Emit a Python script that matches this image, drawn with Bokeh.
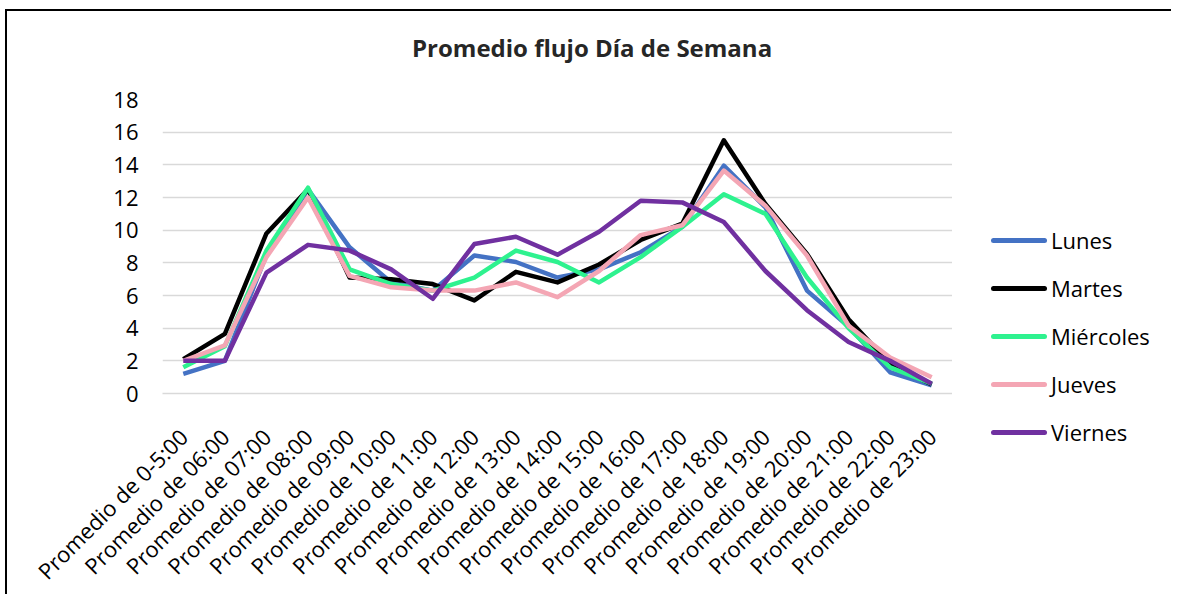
from bokeh.plotting import figure
from bokeh.models import FactorRange, Range1d, SingleIntervalTicker, Div
from bokeh.layouts import row, column
from bokeh.embed import file_html
from bokeh.resources import INLINE
from math import pi

categories = ["Promedio de 0-5:00"] + ["Promedio de %02d:00" % h for h in range(6, 24)]

lunes = [1.2, 2.0, 8.5, 12.5, 8.95, 6.8, 6.3, 8.45, 8.05, 7.1, 7.6, 8.65, 10.2, 13.95, 11.4, 6.3, 4.1, 1.3, 0.5]
martes = [2.1, 3.65, 9.8, 12.5, 7.1, 7.0, 6.7, 5.7, 7.45, 6.8, 7.9, 9.4, 10.4, 15.5, 11.6, 8.55, 4.55, 1.8, 0.55]
miercoles = [1.6, 2.9, 8.75, 12.6, 7.6, 6.7, 6.3, 7.1, 8.75, 8.05, 6.8, 8.35, 10.2, 12.2, 11.0, 7.1, 4.0, 1.6, 0.6]
jueves = [2.0, 2.95, 8.35, 12.0, 7.2, 6.5, 6.3, 6.3, 6.8, 5.9, 7.5, 9.7, 10.3, 13.65, 11.5, 8.45, 4.15, 2.2, 1.0]
viernes = [2.0, 2.0, 7.4, 9.1, 8.75, 7.6, 5.8, 9.15, 9.6, 8.5, 9.9, 11.8, 11.7, 10.5, 7.5, 5.1, 3.15, 2.0, 0.6]

series_names = ["Lunes", "Martes", "Miércoles", "Jueves", "Viernes"]
series_values = [lunes, martes, miercoles, jueves, viernes]
colors = ["#4472C4", "#000000", "#2EF28F", "#F4A6B4", "#7030A0"]
title_text = "Promedio flujo Día de Semana"

FONT = "Open Sans"

p = figure(
    frame_width=790, frame_height=294, title=None,
    x_range=FactorRange(*categories, range_padding=0),
    y_range=Range1d(0, 18),
    output_backend="svg", toolbar_location=None,
    min_border_left=155, min_border_right=0,
    min_border_top=20, min_border_bottom=150,
)
p.outline_line_color = None

p.yaxis.ticker = SingleIntervalTicker(interval=2)
p.yaxis.axis_line_color = None
p.yaxis.major_tick_line_color = None
p.yaxis.major_tick_out = 0
p.yaxis.minor_tick_line_color = None
p.yaxis.major_label_text_font = FONT
p.yaxis.major_label_text_font_size = "22px"
p.yaxis.major_label_text_color = "#000000"
p.yaxis.major_label_standoff = 20

p.xaxis.axis_line_color = "#d9d9d9"
p.xaxis.axis_line_width = 1.5
p.xaxis.major_tick_line_color = None
p.xaxis.minor_tick_line_color = None
p.xaxis.major_label_orientation = pi / 4
p.xaxis.major_label_text_font = FONT
p.xaxis.major_label_text_font_size = "22px"
p.xaxis.major_label_text_color = "#000000"
p.xaxis.major_label_standoff = 33

p.xgrid.grid_line_color = None
p.ygrid.grid_line_color = "#d9d9d9"
p.ygrid.grid_line_width = 1.5

for name, vals, c in zip(series_names, series_values, colors):
    p.line(categories, vals, line_color=c, line_width=4.5, line_join="round")

# chart title
title_div = Div(
    text=(f'<div style="position:relative;width:1164px;height:68px;">'
          f'<div style="position:absolute;left:405px;top:20px;white-space:nowrap;'
          f"font-family:'{FONT}';font-size:24px;font-weight:bold;color:#262626;"
          f'line-height:33px;">{title_text}</div></div>'),
    width=1164, height=68, margin=0,
)

# legend, placed to the right of the plot area
rows_html = []
for i, (name, c) in enumerate(zip(series_names, colors)):
    top = 146 + 48 * i
    rows_html.append(
        f'<div style="position:absolute;left:39px;top:{top}px;height:30px;'
        f'display:flex;align-items:center;white-space:nowrap;">'
        f'<span style="display:inline-block;width:56px;height:5px;background:{c};'
        f'border-radius:3px;"></span>'
        f'<span style="margin-left:4px;line-height:30px;">{name}</span></div>'
    )
legend_div = Div(
    text=(f'<div style="position:relative;width:219px;height:430px;'
          f"font-family:'{FONT}';font-size:22px;color:#000;\">" + "".join(rows_html) + "</div>"),
    width=219, height=430, margin=0,
)

layout = column(title_div, row(p, legend_div, spacing=0), spacing=0)
layout.styles = {"border-left": "2px solid #000", "border-top": "2px solid #000",
                 "margin-left": "5px", "margin-top": "9px"}

open("out.html", "w").write(file_html(layout, INLINE))
